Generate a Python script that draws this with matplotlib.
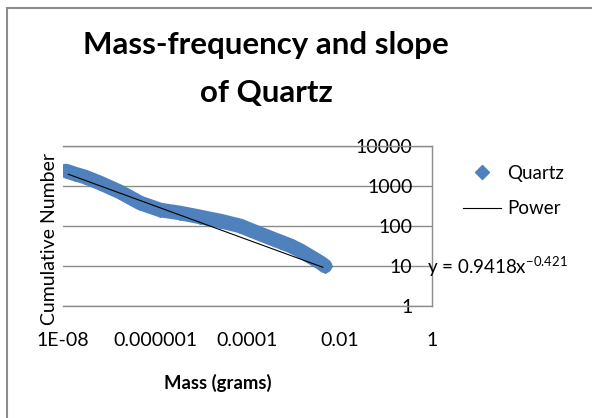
import matplotlib
matplotlib.use('Agg')
import matplotlib.pyplot as plt
from matplotlib.patches import Rectangle

plt.rcParams['font.family'] = ['Lato', 'DejaVu Sans']
plt.rcParams['mathtext.fontset'] = 'custom'
plt.rcParams['mathtext.rm'] = 'Lato'

# Quartz: mass (grams) vs cumulative number
mass = [1.16e-8, 1.82e-8, 3.01e-8, 6.37e-8, 1.73e-7, 4.72e-7, 1.29e-6, 3.49e-6,
        9.51e-6, 2.59e-5, 7.05e-5, 1.16e-4, 2.46e-4, 5.21e-4, 8.6e-4, 1.42e-3,
        2.34e-3, 3.87e-3, 4.8e-3]
count = [2370, 1995, 1680, 1190, 708, 376, 251, 211,
         168, 133, 100, 79, 56, 40, 32, 24,
         17, 12, 10]

# power trendline endpoints (y = 0.9418x^-0.421)
trend_mass = [1.3e-8, 4.3e-3]
trend_count = [1970, 9.3]
equation = 'y = 0.9418x$^{\\mathregular{-0.421}}$'

x_ticks = [1e-8, 1e-6, 1e-4, 1e-2, 1]
x_tick_labels = ['1E-08', '0.000001', '0.0001', '0.01', '1']
y_ticks = [1, 10, 100, 1000, 10000]
y_tick_labels = ['1', '10', '100', '1000', '10000']

blue = '#4F81BD'
grid_gray = '#8C8C8C'

fig = plt.figure(figsize=(5.92, 4.18), dpi=100)
ax = fig.add_axes([63 / 592, 1 - 306 / 418, 369 / 592, 160 / 418])

# dense band of overlapping markers
ax.plot(mass, count, color=blue, lw=10.5, solid_capstyle='round', zorder=2)
ax.plot(mass, count, ls='none', marker='D', ms=7, color=blue, label='Quartz', zorder=2)
ax.plot(trend_mass, trend_count, color='black', lw=0.8, label='Power', zorder=3)

ax.set_xscale('log')
ax.set_yscale('log')
ax.set_xlim(1e-8, 1)
ax.set_ylim(1, 10000)
ax.set_xticks(x_ticks)
ax.set_xticklabels(x_tick_labels)
ax.set_yticks(y_ticks)
ax.set_yticklabels(y_tick_labels)
ax.minorticks_off()

ax.grid(axis='y', color=grid_gray, lw=1)
ax.set_axisbelow(True)
ax.spines['left'].set_visible(False)
for s in ['top', 'right', 'bottom']:
    ax.spines[s].set_color(grid_gray)
    ax.spines[s].set_linewidth(1)

ax.yaxis.tick_right()
ax.tick_params(axis='y', length=0, pad=-14, labelsize=14)
ax.tick_params(axis='x', length=0, pad=19, labelsize=14)
for t in ax.get_yticklabels():
    t.set_horizontalalignment('right')

ax.text(427 / 592, 1 - 267 / 418, equation, transform=fig.transFigure,
        fontsize=13.5, ha='left', va='center')

fig.text(50 / 592, 1 - 239 / 418, 'Cumulative Number', rotation=90,
         fontsize=14, ha='center', va='center')
fig.text(218 / 592, 1 - 383 / 418, 'Mass (grams)', fontsize=13.3,
         fontweight='bold', ha='center', va='center')
fig.text(266 / 592, 1 - 31 / 418, 'Mass-frequency and slope\nof Quartz',
         fontsize=22.5, fontweight='bold', ha='center', va='top', linespacing=1.85)

fig.legend(loc='center left', bbox_to_anchor=(463 / 592, 1 - 191 / 418),
           frameon=False, fontsize=13.5, handlelength=2.05, handletextpad=0.32,
           labelspacing=1.0, borderpad=0, borderaxespad=0, numpoints=1)

fig.add_artist(Rectangle((7 / 592, -0.1), 1.2, 1.1 - 8 / 418,
                         transform=fig.transFigure, fill=False,
                         ec=grid_gray, lw=1.5))

fig.savefig('out.png', dpi=100)
